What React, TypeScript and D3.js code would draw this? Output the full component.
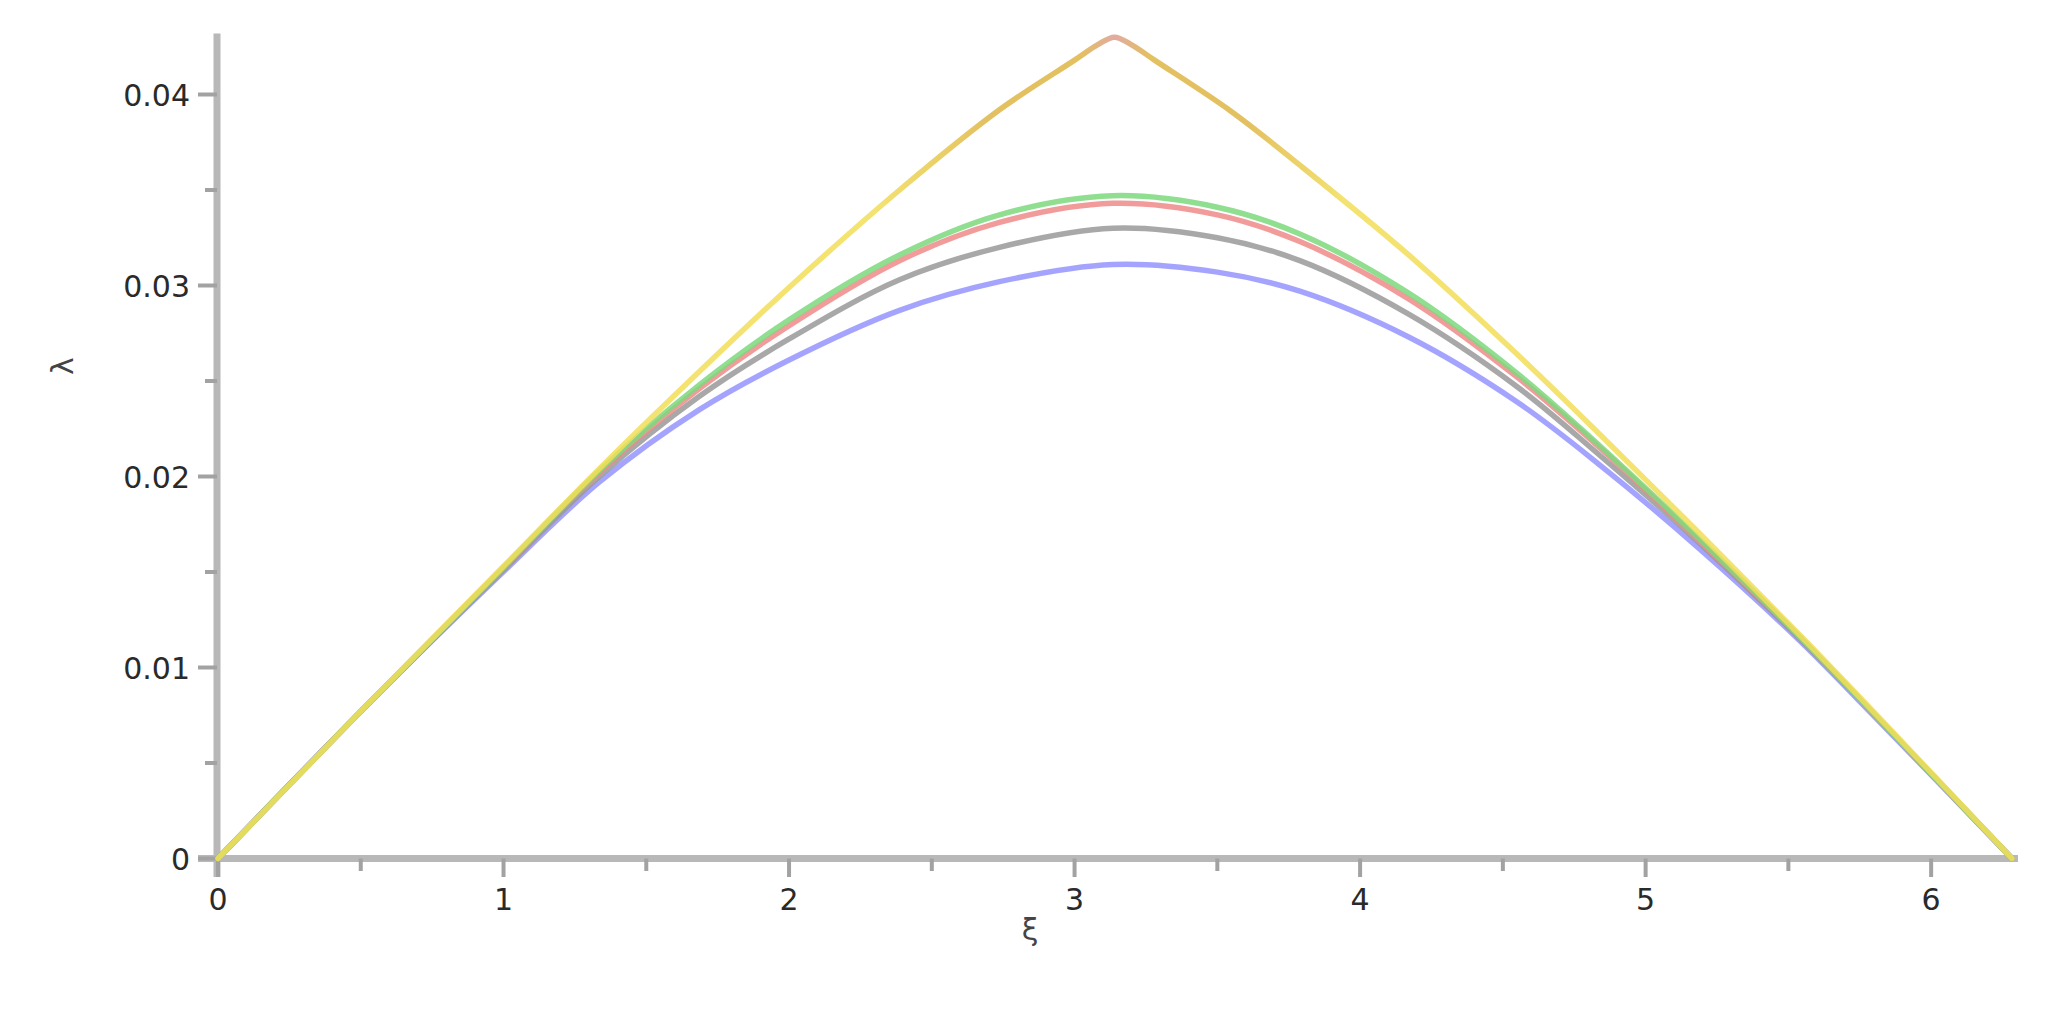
import React from "react";
import * as d3 from "d3";

// ---- data ----
const xTickValues = [0, 1, 2, 3, 4, 5, 6];
const xTickLabels = ["0", "1", "2", "3", "4", "5", "6"];
const xMinorTicks = [0.5, 1.5, 2.5, 3.5, 4.5, 5.5];
const yTickValues = [0, 0.01, 0.02, 0.03, 0.04];
const yTickLabels = ["0", "0.01", "0.02", "0.03", "0.04"];
const yMinorTicks = [0.005, 0.015, 0.025, 0.035];

const xiGrid = [0, 0.5, 0.985, 1.335, 1.686, 2.0, 2.387, 2.737, 3.134, 3.5, 3.789, 4.17, 4.55, 4.84, 5.19, 5.54, 5.81, 6.283];
const blueValues = [0, 0.0077, 0.0148, 0.0197, 0.0235, 0.0261, 0.0287, 0.0302, 0.0311, 0.0307, 0.0297, 0.0273, 0.0239, 0.0206, 0.0162, 0.0114, 0.0073, 0];
const greyValues = [0, 0.0077, 0.0149, 0.0200, 0.0242, 0.0272, 0.0303, 0.0320, 0.0330, 0.0325, 0.0313, 0.0285, 0.0247, 0.0211, 0.0165, 0.0115, 0.0074, 0];
const redValues = [0, 0.0077, 0.0150, 0.0202, 0.0246, 0.0279, 0.0313, 0.0333, 0.0343, 0.0337, 0.0323, 0.0293, 0.0252, 0.0215, 0.0166, 0.0116, 0.0074, 0];
const greenValues = [0, 0.0077, 0.0150, 0.0203, 0.0248, 0.0282, 0.0316, 0.0337, 0.0347, 0.0341, 0.0327, 0.0296, 0.0254, 0.0216, 0.0167, 0.0116, 0.0074, 0];

const yellowXi = [0, 0.5, 1.0, 1.335, 1.686, 2.0, 2.387, 2.737, 3.0, 3.08, 3.14, 3.2, 3.28, 3.55, 3.789, 4.17, 4.55, 4.84, 5.19, 5.54, 5.81, 6.283];
const yellowValues = [0, 0.0077, 0.0153, 0.0204, 0.0255, 0.0299, 0.0350, 0.0392, 0.0418, 0.0426, 0.0430, 0.0426, 0.0418, 0.0391, 0.0363, 0.0316, 0.0264, 0.0222, 0.0170, 0.0117, 0.0075, 0];

const W = 2046;
const H = 1018;

export default function App() {
  const x = d3.scaleLinear().domain([0, 2 * Math.PI]).range([218, 2012]);
  const y = d3.scaleLinear().domain([0, 0.04]).range([858.5, 94.5]);

  const line = d3
    .line<[number, number]>()
    .x((d) => x(d[0]))
    .y((d) => y(d[1]))
    .curve(d3.curveCatmullRom.alpha(0.5));

  const mk = (xs: number[], vs: number[]) => line(xs.map((v, i) => [v, vs[i]] as [number, number])) || "";

  const series = [
    { d: mk(xiGrid, blueValues), color: "#9494ff" },
    { d: mk(xiGrid, greyValues), color: "#999999" },
    { d: mk(xiGrid, redValues), color: "#f08a8a" },
    { d: mk(xiGrid, greenValues), color: "#7cd87c" },
    { d: mk(yellowXi, yellowValues), color: "url(#yellowGrad)" },
  ];

  const xiMax = 2 * Math.PI;
  const gradStops = [
    { at: 0, c: "#f2de58" },
    { at: 2.3, c: "#f2de58" },
    { at: 2.7, c: "#deb545" },
    { at: 3.02, c: "#deb545" },
    { at: 3.14, c: "#dc9c90" },
    { at: 3.26, c: "#deb545" },
    { at: 3.6, c: "#deb545" },
    { at: 3.95, c: "#f2de58" },
    { at: xiMax, c: "#f2de58" },
  ];

  const axisColor = "#b8b8b8";
  const tickColor = "#a2a2a2";
  const font = "'DejaVu Sans', Verdana, sans-serif";
  const yTop = y(0.0432);
  const x0 = 217;
  const y0 = y(0);

  return (
    <svg width={W} height={H} style={{ position: "absolute", left: 0, top: 0, background: "#fff" }}>
      <defs>
        <linearGradient id="yellowGrad" gradientUnits="userSpaceOnUse" x1={x(0)} x2={x(xiMax)} y1={0} y2={0}>
          {gradStops.map((s, i) => (
            <stop key={i} offset={s.at / xiMax} stopColor={s.c} />
          ))}
        </linearGradient>
      </defs>
      {/* axes */}
      <line x1={x0} x2={x0} y1={yTop} y2={877} stroke={axisColor} strokeWidth={7} />
      <line x1={198} x2={2018} y1={y0} y2={y0} stroke={axisColor} strokeWidth={7} />
      {/* y ticks */}
      {yTickValues.map((v) => (
        <line key={"ym" + v} x1={198} x2={x0} y1={y(v)} y2={y(v)} stroke={tickColor} strokeWidth={4} />
      ))}
      {yMinorTicks.map((v) => (
        <line key={"yn" + v} x1={205} x2={x0} y1={y(v)} y2={y(v)} stroke={tickColor} strokeWidth={4} />
      ))}
      {/* x ticks */}
      {xTickValues.map((v) => (
        <line key={"xm" + v} x1={x(v)} x2={x(v)} y1={y0} y2={877} stroke={tickColor} strokeWidth={4} />
      ))}
      {xMinorTicks.map((v) => (
        <line key={"xn" + v} x1={x(v)} x2={x(v)} y1={y0} y2={871} stroke={tickColor} strokeWidth={4} />
      ))}
      {/* tick labels */}
      {yTickValues.map((v, i) => (
        <text key={"yl" + v} x={190} y={y(v) + 11} textAnchor="end" fontFamily={font} fontSize={30} fill="#2a2a2a">
          {yTickLabels[i]}
        </text>
      ))}
      {xTickValues.map((v, i) => (
        <text key={"xl" + v} x={x(v)} y={910} textAnchor="middle" fontFamily={font} fontSize={30} fill="#2a2a2a">
          {xTickLabels[i]}
        </text>
      ))}
      {/* axis titles */}
      <text transform="translate(62,366) rotate(-90)" textAnchor="middle" dominantBaseline="central" fontFamily={font} fontSize={30} fill="#444">
        λ
      </text>
      <text x={1030} y={940} textAnchor="middle" fontFamily={font} fontSize={30} fill="#444">
        ξ
      </text>
      {/* curves */}
      {series.map((s, i) => (
        <path key={i} d={s.d} fill="none" stroke={s.color} strokeWidth={5.5} strokeOpacity={0.85} strokeLinejoin="round" strokeLinecap="round" />
      ))}
    </svg>
  );
}
